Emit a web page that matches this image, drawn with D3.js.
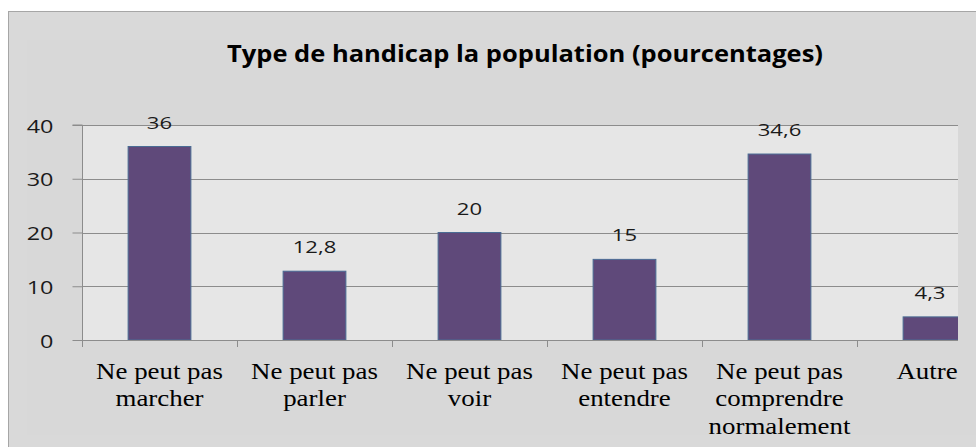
<!DOCTYPE html>
<html>
<head>
<meta charset="utf-8">
<script src="https://cdn.jsdelivr.net/npm/d3@7"></script>
<style>
body { margin:0; background:#ffffff; }
svg { display:block; }
</style>
</head>
<body>
<svg id="graph1"></svg>
<script>

var categories = [
    ["Ne peut pas", "marcher"],
    ["Ne peut pas", "parler"],
    ["Ne peut pas", "voir"],
    ["Ne peut pas", "entendre"],
    ["Ne peut pas", "comprendre", "normalement"],
    ["Autre"]
]
var values = [36, 12.8, 20, 15, 34.6, 4.3]
var yTicks = [0, 10, 20, 30, 40]
var title = "Type de handicap la population (pourcentages)"

var screen = {width:976, height:447}
var plot = {left:82, top:125, width:876, height:215}
var band = 155
var sansFont = "'Open Sans', 'Noto Sans', sans-serif"

var svg = d3.select("#graph1")
    .attr("width", screen.width)
    .attr("height", screen.height)

// chart background + frame
svg.append("rect")
    .attr("x", 8.5).attr("y", 11.5)
    .attr("width", 1100).attr("height", 500)
    .attr("fill", "#d9d9d9")
    .attr("stroke", "#a6a6a6")

svg.append("rect")
    .attr("x", 27).attr("y", 40)
    .attr("width", 1000).attr("height", 395)
    .attr("fill", "#d8d8d8")

// plot area
svg.append("defs").append("clipPath").attr("id", "clip")
    .append("rect")
    .attr("x", plot.left).attr("y", 0)
    .attr("width", plot.width).attr("height", screen.height)

svg.append("rect")
    .attr("x", plot.left).attr("y", plot.top)
    .attr("width", plot.width).attr("height", plot.height)
    .attr("fill", "#e6e6e6")

var idx = categories.map(function(c, i) { return i })

var xScale = d3.scaleBand()
    .domain(idx)
    .range([plot.left, plot.left + band * categories.length])
    .paddingInner(0.595)
    .paddingOuter(0.2975)

var yScale = d3.scaleLinear()
    .domain([0, 40])
    .range([plot.top + plot.height, plot.top])

// gridlines
svg.append("g")
    .selectAll("line")
    .data(yTicks.filter(function(t) { return t > 0 }))
    .enter()
    .append("line")
    .attr("x1", plot.left).attr("x2", plot.left + plot.width)
    .attr("y1", function(t) { return Math.round(yScale(t)) + 0.5 })
    .attr("y2", function(t) { return Math.round(yScale(t)) + 0.5 })
    .attr("stroke", "#8c8c8c")
    .attr("stroke-width", 1)

// bars
svg.append("g")
    .attr("clip-path", "url(#clip)")
    .selectAll("rect")
    .data(values)
    .enter()
    .append("rect")
    .attr("x", function(v, i) { return xScale(i) })
    .attr("y", function(v) { return yScale(v) })
    .attr("width", xScale.bandwidth())
    .attr("height", function(v) { return yScale(0) - yScale(v) })
    .attr("fill", "#5f497a")
    .attr("stroke", "#4a6c94")
    .attr("stroke-width", 1)

// y axis
var yAxis = d3.axisLeft(yScale)
    .tickValues(yTicks)
    .tickSize(10)
    .tickPadding(0)

var ya = svg.append("g")
    .attr("transform", "translate(" + (plot.left + 0.5) + ",0)")
    .call(yAxis)
ya.select(".domain").attr("stroke", "#8c8c8c").attr("d", "M-10," + yScale(40) + "H0V" + yScale(0))
ya.selectAll(".tick line").attr("stroke", "#8c8c8c")
ya.selectAll(".tick text")
    .attr("x", 0)
    .attr("dy", null)
    .attr("y", 7)
    .attr("transform", "translate(-29,0) scale(1.3,1)")
    .attr("fill", "#1a1a1a")
    .style("font-family", sansFont)
    .style("font-size", "18px")

// x axis baseline and ticks
var xa = svg.append("g")
xa.append("line")
    .attr("x1", plot.left).attr("x2", plot.left + plot.width)
    .attr("y1", yScale(0) + 0.5).attr("y2", yScale(0) + 0.5)
    .attr("stroke", "#8c8c8c")
xa.selectAll("line.tk")
    .data(idx)
    .enter()
    .append("line")
    .attr("class", "tk")
    .attr("x1", function(i) { return plot.left + band * i + 0.5 })
    .attr("x2", function(i) { return plot.left + band * i + 0.5 })
    .attr("y1", yScale(0)).attr("y2", yScale(0) + 7)
    .attr("stroke", "#8c8c8c")

// x labels
var xl = svg.append("g")
    .selectAll("text")
    .data(categories)
    .enter()
    .append("text")
    .attr("transform", function(c, i) {
        var x = i == 5 ? 927 : xScale(i) + xScale.bandwidth() / 2
        return "translate(" + x + ",379) scale(1.12,1)"
    })
    .attr("text-anchor", "middle")
    .attr("fill", "#000")
    .style("font-family", "'Liberation Serif', 'Times New Roman', serif")
    .style("font-size", "24px")
xl.selectAll("tspan")
    .data(function(c) { return c })
    .enter()
    .append("tspan")
    .attr("x", 0)
    .attr("y", function(s, j) { return j * 27.5 })
    .text(function(s) { return s })

// data labels
svg.append("g")
    .selectAll("text")
    .data(values)
    .enter()
    .append("text")
    .attr("transform", function(v, i) {
        var x = i == 5 ? 930 : xScale(i) + xScale.bandwidth() / 2
        return "translate(" + x + "," + (yScale(v) - 18) + ") scale(1.3,1)"
    })
    .attr("text-anchor", "middle")
    .attr("fill", "#1a1a1a")
    .style("font-family", sansFont)
    .style("font-size", "17px")
    .text(function(v) { return String(v).replace(".", ",") })

// title
svg.append("text")
    .attr("x", 525)
    .attr("y", 62)
    .attr("text-anchor", "middle")
    .attr("textLength", 596)
    .attr("lengthAdjust", "spacingAndGlyphs")
    .attr("fill", "#000")
    .style("font-family", sansFont)
    .style("font-weight", "bold")
    .style("font-size", "23px")
    .text(title)

</script>
</body>
</html>
